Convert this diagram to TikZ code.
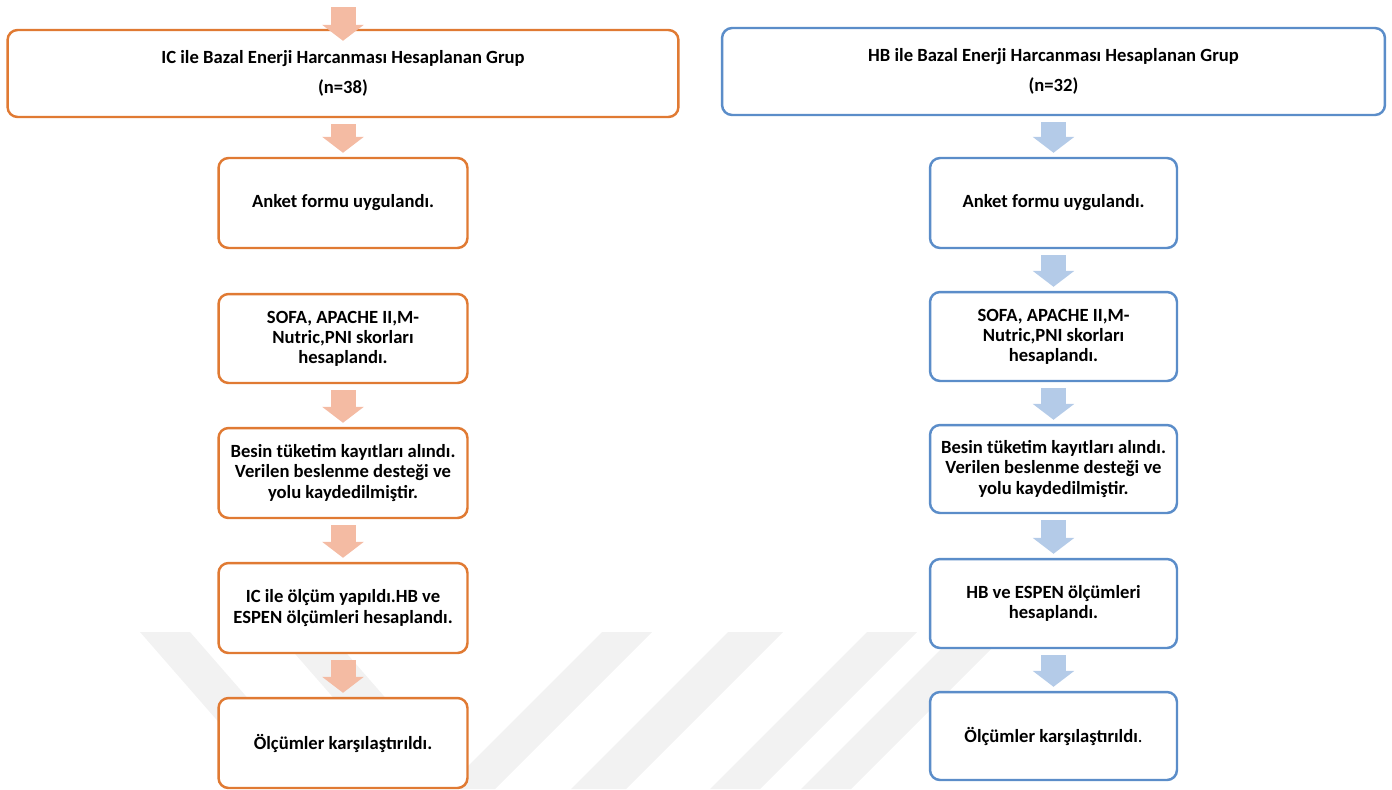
\documentclass[tikz,border=0pt]{standalone}
\usepackage{fontspec}
\setmainfont{Carlito}
\usepackage{tikz}
\usetikzlibrary{arrows.meta}
\definecolor{icrenk}{HTML}{E07A33}
\definecolor{icokrenk}{HTML}{F4BBA3}
\definecolor{hbrenk}{HTML}{5B8DC9}
\definecolor{hbokrenk}{HTML}{B4CBE8}
\definecolor{filigran}{HTML}{F2F2F2}
\tikzset{
    kutu/.style = {rectangle, rounded corners = 0.2cm, line width = 1.4pt, fill = white, align = center, inner sep = 0pt, font = \fontsize{10.6}{11.4}\selectfont\bfseries},
    ickutu/.style = {kutu, draw = icrenk},
    hbkutu/.style = {kutu, draw = hbrenk},
    blok/.style = {line width = 0.5cm, shorten <= 0.12cm, shorten >= 0.08cm, -{Triangle[width = 0.82cm, length = 0.32cm]}},
    icok/.style = {blok, draw = icokrenk},
    hbok/.style = {blok, draw = hbokrenk},
    bant/.style = {fill = filigran}
}

\begin{document}
\begin{tikzpicture}[x = 0.02cm, y = -0.02cm]
            \useasboundingbox (0, 0) rectangle (1392, 789);

            \fill[bant] (140, 632) -- (190, 632) -- (327, 789) -- (277, 789) -- cycle;
            \fill[bant] (276, 632) -- (328, 632) -- (465, 789) -- (413, 789) -- cycle;
            \fill[bant] (602, 632) -- (652, 632) -- (495, 789) -- (445, 789) -- cycle;
            \fill[bant] (728, 632) -- (783, 632) -- (626, 789) -- (571, 789) -- cycle;
            \fill[bant] (867, 632) -- (917, 632) -- (760, 789) -- (710, 789) -- cycle;
            \fill[bant] (958, 632) -- (1008, 632) -- (851, 789) -- (801, 789) -- cycle;

            \node (L1) at (343, 73.5) [ickutu, minimum width = 13.42cm, minimum height = 1.74cm]{IC ile Bazal Enerji Harcanması Hesaplanan Grup\\[5.6pt](n=38)};
            \node (L2) at (343, 203) [ickutu, minimum width = 4.98cm, minimum height = 1.8cm]{Anket formu uygulandı.};
            \node (L3) at (343, 338.5) [ickutu, minimum width = 4.98cm, minimum height = 1.78cm]{SOFA, APACHE II,M-\\Nutric,PNI skorları\\hesaplandı.};
            \node (L4) at (343, 473) [ickutu, minimum width = 4.98cm, minimum height = 1.8cm]{Besin tüketim kayıtları alındı.\\Verilen beslenme desteği ve\\yolu kaydedilmiştir.};
            \node (L5) at (343, 608) [ickutu, minimum width = 4.98cm, minimum height = 1.8cm]{IC ile ölçüm yapıldı.HB ve\\ESPEN ölçümleri hesaplandı.};
            \node (L6) at (343, 743) [ickutu, minimum width = 4.98cm, minimum height = 1.8cm]{Ölçümler karşılaştırıldı.};

            \node (R1) at (1053.5, 71.5) [hbkutu, minimum width = 13.26cm, minimum height = 1.74cm]{HB ile Bazal Enerji Harcanması Hesaplanan Grup\\[5.6pt](n=32)};
            \node (R2) at (1053.5, 203) [hbkutu, minimum width = 4.94cm, minimum height = 1.8cm]{Anket formu uygulandı.};
            \node (R3) at (1053.5, 336.5) [hbkutu, minimum width = 4.94cm, minimum height = 1.78cm]{SOFA, APACHE II,M-\\Nutric,PNI skorları\\hesaplandı.};
            \node (R4) at (1053.5, 469) [hbkutu, minimum width = 4.94cm, minimum height = 1.76cm]{Besin tüketim kayıtları alındı.\\Verilen beslenme desteği ve\\yolu kaydedilmiştir.};
            \node (R5) at (1053.5, 603.5) [hbkutu, minimum width = 4.94cm, minimum height = 1.78cm]{HB ve ESPEN ölçümleri\\hesaplandı.};
            \node (R6) at (1053.5, 736) [hbkutu, minimum width = 4.94cm, minimum height = 1.76cm]{Ölçümler karşılaştırıldı{\mdseries .}};

            \coordinate (giris) at (343, 7);
            \draw[icok, shorten <= 0pt, shorten >= 0pt] (giris) -- ([yshift = -0.24cm]L1.north);
            \draw[icok] (L1) -- (L2);
            \draw[icok] (L3) -- (L4);
            \draw[icok] (L4) -- (L5);
            \draw[icok] (L5) -- (L6);

            \draw[hbok] (R1) -- (R2);
            \draw[hbok] (R2) -- (R3);
            \draw[hbok] (R3) -- (R4);
            \draw[hbok] (R4) -- (R5);
            \draw[hbok] (R5) -- (R6);
        \end{tikzpicture}
\end{document}
